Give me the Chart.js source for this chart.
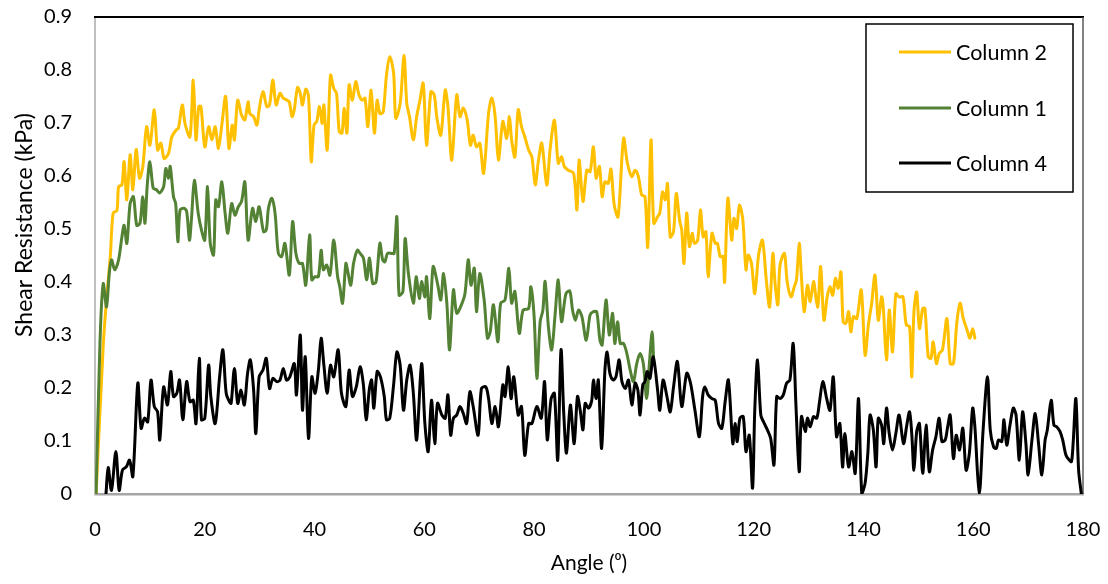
<!DOCTYPE html>
<html>
<head>
<meta charset="utf-8">
<script src="https://cdn.jsdelivr.net/npm/chart.js"></script>
<style>
  html, body { margin: 0; padding: 0; background: #fff; }
  #wrap { width: 1108px; height: 584px; }
</style>
</head>
<body>
<div id="wrap"><canvas id="c" width="1108" height="584"></canvas></div>
<script>
// ---- DATA (angle in degrees, shear resistance in kPa) ----
const seriesNames = ["Column 2", "Column 1", "Column 4"];
const xTicks = [0, 20, 40, 60, 80, 100, 120, 140, 160, 180];
const yTicks = [0, 0.1, 0.2, 0.3, 0.4, 0.5, 0.6, 0.7, 0.8, 0.9];
const xTitle = "Angle (\u2070)";
const yTitle = "Shear Resistance (kPa)";

const column2 = [[0.2,0],[1.5,0.28],[2.2,0.38],[2.8,0.45],[3.3,0.53],[4.0,0.535],[4.3,0.58],[4.9,0.583],[5.3,0.627],[5.8,0.555],[6.4,0.64],[6.9,0.574],[7.5,0.65],[8.1,0.596],[8.7,0.617],[9.4,0.693],[10.0,0.658],[10.8,0.725],[11.4,0.649],[12.0,0.662],[12.6,0.633],[13.4,0.643],[14.0,0.674],[14.8,0.687],[15.2,0.69],[15.9,0.734],[16.4,0.699],[17.3,0.674],[17.9,0.781],[18.4,0.668],[18.9,0.731],[19.3,0.731],[20.0,0.655],[20.7,0.693],[21.3,0.668],[21.9,0.693],[22.5,0.652],[23.1,0.696],[23.8,0.75],[24.4,0.652],[25.0,0.696],[25.4,0.668],[26.0,0.743],[26.7,0.715],[27.3,0.706],[27.9,0.74],
[28.2,0.718],[28.9,0.712],[29.5,0.696],[29.9,0.725],[30.6,0.759],[31.3,0.731],[31.8,0.734],[32.4,0.781],[33.0,0.734],[33.7,0.756],[34.3,0.747],[35.0,0.743],[35.4,0.74],[35.9,0.712],[36.3,0.725],[36.9,0.767],[37.4,0.756],[37.8,0.734],[38.4,0.764],[38.9,0.75],[39.4,0.627],[39.9,0.696],[40.4,0.703],[40.9,0.731],[41.4,0.699],[41.7,0.734],[42.3,0.649],[42.9,0.79],[43.5,0.765],[44.0,0.756],[44.5,0.684],[45.0,0.681],[45.4,0.728],[45.9,0.681],[46.3,0.772],[46.9,0.743],[47.5,0.778],[48.1,0.753],[48.7,0.743],[49.2,0.747],[49.7,0.693],[50.3,0.762],[50.9,0.681],[51.4,0.743],[51.9,0.718],[52.5,0.721],[53.1,0.79],[53.7,0.825],[54.4,0.794],[54.8,0.709],[55.6,0.737],[56.3,0.828],[56.8,0.737],[57.3,0.712],
[58.0,0.668],[58.6,0.712],[59.2,0.743],[59.8,0.775],[60.4,0.658],[61.2,0.759],[61.8,0.753],[62.3,0.709],[63.0,0.677],[63.8,0.762],[64.3,0.731],[65.0,0.630],[65.9,0.753],[66.5,0.712],[67.1,0.728],[67.8,0.706],[68.4,0.658],[68.9,0.677],[69.5,0.655],[70.1,0.662],[70.8,0.605],[71.7,0.718],[72.3,0.747],[72.9,0.712],[73.5,0.630],[74.3,0.703],[75.0,0.671],[75.5,0.712],[75.9,0.668],[76.5,0.636],[77.1,0.725],[77.7,0.693],[78.3,0.674],[79.0,0.649],[79.6,0.636],[80.2,0.583],[80.8,0.630],[81.4,0.662],[82.3,0.583],[82.9,0.649],[83.7,0.705],[84.4,0.624],[85.0,0.636],[85.5,0.618],[86.2,0.611],
[87.2,0.605],[87.8,0.536],[88.2,0.630],[88.9,0.552],[89.6,0.611],[90.2,0.608],[90.8,0.655],[91.3,0.596],[91.9,0.618],[92.4,0.561],[92.9,0.589],[93.5,0.586],[94.0,0.613],[94.6,0.545],[95.3,0.523],[96.3,0.671],[97.0,0.624],[97.8,0.599],[98.4,0.611],[99.0,0.599],[99.6,0.564],[100.2,0.561],[100.7,0.466],[101.3,0.668],[101.8,0.511],[102.5,0.523],[102.9,0.530],[103.4,0.570],[103.9,0.555],[104.3,0.586],[104.8,0.485],[105.4,0.495],[105.9,0.567],[106.5,0.517],[106.9,0.498],[107.3,0.435],[107.8,0.530],[108.3,0.467],[108.8,0.492],[109.2,0.473],[109.8,0.479],[110.3,0.536],[110.8,0.485],[111.3,0.495],[111.7,0.410],[112.4,0.492],[113.0,0.473],[113.4,0.473],[113.9,0.448],[114.4,0.448],[114.7,0.400],[115.3,0.558],
[116.0,0.479],[116.4,0.520],[116.9,0.501],[117.4,0.545],[118.0,0.520],[118.6,0.423],[119.0,0.451],[119.6,0.435],[120.2,0.378],[120.9,0.451],[121.6,0.479],[122.3,0.404],[122.9,0.353],[123.5,0.454],[123.9,0.397],[124.4,0.357],[124.8,0.432],[125.6,0.454],[126.1,0.401],[126.8,0.372],[127.4,0.391],[127.8,0.404],[128.3,0.473],[128.7,0.410],[129.2,0.344],[129.8,0.394],[130.3,0.363],[130.9,0.401],[131.4,0.366],[131.7,0.353],[132.2,0.429],[132.8,0.328],[133.4,0.372],[133.9,0.391],[134.4,0.375],[134.9,0.407],[135.4,0.388],[135.9,0.419],[136.3,0.325],[136.8,0.322],[137.3,0.344],[137.7,0.306],[138.2,0.335],[138.8,0.331],[139.6,0.385],[140.3,0.262],[140.9,0.319],[141.5,0.360],[142.1,0.413],[142.7,0.328],[143.3,0.372],[143.6,0.353],[144.2,0.253],[144.7,0.347],
[145.3,0.268],[145.9,0.378],[146.5,0.372],[147.2,0.372],[147.8,0.319],[148.4,0.316],[148.8,0.221],[149.2,0.344],[149.7,0.381],[150.2,0.312],[150.8,0.350],[151.2,0.350],[151.8,0.259],[152.3,0.256],[152.7,0.287],[153.3,0.246],[153.8,0.265],[154.4,0.272],[155.2,0.331],[155.8,0.246],[156.4,0.246],[157.0,0.322],[157.6,0.360],[158.2,0.331],[158.9,0.309],[159.4,0.294],[159.9,0.312],[160.3,0.294]];

const column1 = [[0.2,0],[0.9,0.284],[1.5,0.397],[2.1,0.353],[2.6,0.416],[3.0,0.442],[3.6,0.423],[4.3,0.442],[4.9,0.485],[5.3,0.507],[5.8,0.473],[6.4,0.548],[7.0,0.561],[7.6,0.507],[8.2,0.511],[8.7,0.561],[9.1,0.511],[9.5,0.580],[10.0,0.627],[10.6,0.577],[11.2,0.574],[11.8,0.568],[12.5,0.580],[12.9,0.614],[13.4,0.596],[13.7,0.618],[14.3,0.561],[14.7,0.548],[15.1,0.476],[15.5,0.536],[16.2,0.539],[16.7,0.533],[17.2,0.479],[17.6,0.523],[18.1,0.592],[18.8,0.530],[19.4,0.498],[20.0,0.479],[20.5,0.580],[21.0,0.473],[21.6,0.451],[22.0,0.555],[22.5,0.542],[23.1,0.589],[23.7,0.530],[24.2,0.492],[24.9,0.548],[25.5,0.526],[26.1,0.542],[26.7,0.552],[27.3,0.589],[27.9,0.479],
[28.7,0.539],[29.3,0.514],[29.9,0.542],[30.7,0.495],[31.2,0.498],[31.6,0.539],[32.2,0.558],[32.8,0.530],[33.4,0.454],[34.0,0.448],[34.6,0.473],[35.4,0.413],[36.0,0.514],[36.6,0.454],[37.2,0.435],[37.8,0.435],[38.4,0.394],[39.1,0.489],[39.5,0.404],[40.1,0.410],[40.7,0.410],[41.2,0.460],[41.6,0.423],[42.2,0.432],[42.8,0.413],[43.5,0.479],[44.2,0.410],[44.6,0.391],[45.1,0.360],[45.7,0.435],[46.0,0.423],[46.6,0.394],[47.1,0.435],[47.8,0.460],[48.3,0.454],[48.9,0.445],[49.5,0.404],[50.0,0.445],[50.6,0.397],[51.2,0.400],[51.9,0.473],[52.4,0.442],[52.8,0.438],[53.3,0.454],[54.1,0.454],[54.5,0.454],[55.0,0.523],[55.4,0.375],[56.1,0.382],[56.5,0.482],[57.1,0.416],
[58.0,0.360],[58.5,0.410],[59.1,0.369],[59.5,0.401],[60.1,0.372],[60.4,0.410],[61.0,0.331],[61.6,0.429],[62.4,0.397],[63.0,0.366],[63.5,0.416],[64.1,0.360],[64.6,0.272],[65.3,0.385],[65.9,0.341],[66.6,0.353],[67.4,0.378],[68.0,0.442],[68.5,0.394],[69.1,0.426],[69.5,0.344],[70.1,0.416],[70.9,0.366],[71.5,0.294],[72.0,0.306],[72.6,0.357],[73.4,0.287],[73.9,0.360],[74.7,0.366],[75.4,0.426],[75.9,0.360],[76.5,0.382],[77.3,0.303],[78.0,0.347],[79.0,0.350],[79.4,0.391],[80.0,0.335],[80.5,0.218],[81.1,0.325],[81.6,0.347],[82.0,0.401],[82.6,0.316],[83.2,0.272],[83.8,0.335],[84.4,0.404],[85.0,0.325],[85.8,0.378],[86.5,0.383],
[87.0,0.347],[87.5,0.328],[88.1,0.347],[88.7,0.335],[89.5,0.290],[90.2,0.338],[90.8,0.344],[91.4,0.344],[92.0,0.290],[92.4,0.281],[93.1,0.366],[93.7,0.300],[94.3,0.341],[94.7,0.284],[95.2,0.325],[95.7,0.284],[96.3,0.284],[96.9,0.265],[97.5,0.234],[98.1,0.212],[98.7,0.246],[99.3,0.265],[99.9,0.246],[100.5,0.180],[101.0,0.246],[101.5,0.306],[101.8,0.246]];

const column4 = [[2.0,0],[2.4,0.050],[3.0,0.007],[3.8,0.080],[4.4,0.007],[5.0,0.045],[5.7,0.051],[6.3,0.064],[6.9,0.033],[7.8,0.209],[8.4,0.124],[9.0,0.143],[9.6,0.136],[10.2,0.215],[10.8,0.165],[11.4,0.155],[11.8,0.102],[12.5,0.202],[13.2,0.168],[13.8,0.231],[14.3,0.184],[14.9,0.190],[15.4,0.215],[16.0,0.140],[16.7,0.212],[17.3,0.174],[17.9,0.177],[18.4,0.133],[19.0,0.256],[19.4,0.140],[20.0,0.143],[20.7,0.243],[21.1,0.184],[21.9,0.133],[22.7,0.221],[23.3,0.272],[23.9,0.190],[24.5,0.174],[24.8,0.171],[25.4,0.237],[26.0,0.171],[26.6,0.196],[27.2,0.168],[27.8,0.228],
[28.3,0.253],[28.9,0.196],[29.3,0.114],[29.9,0.221],[30.6,0.234],[31.2,0.256],[31.8,0.199],[32.4,0.218],[33.1,0.212],[33.7,0.215],[34.3,0.237],[34.9,0.215],[35.5,0.221],[36.3,0.246],[36.7,0.187],[37.4,0.300],[37.8,0.158],[38.3,0.259],[38.9,0.105],[39.5,0.221],[40.1,0.190],[40.7,0.234],[41.2,0.294],[41.7,0.243],[42.3,0.190],[42.9,0.243],[43.5,0.221],[44.3,0.272],[44.9,0.190],[45.7,0.165],[46.3,0.234],[46.9,0.184],[47.6,0.202],[48.3,0.240],[48.9,0.206],[49.4,0.140],[50.0,0.199],[50.4,0.215],[50.8,0.162],[51.4,0.231],[52.0,0.221],[52.7,0.184],[53.1,0.140],[53.7,0.143],[54.4,0.206],[55.0,0.268],[55.6,0.243],[56.2,0.158],[56.8,0.215],
[57.4,0.243],[58.0,0.190],[58.6,0.102],[59.5,0.246],[60.1,0.133],[60.7,0.080],[61.3,0.177],[61.9,0.095],[62.4,0.171],[63.2,0.149],[63.8,0.143],[64.3,0.187],[64.8,0.111],[65.3,0.143],[65.9,0.149],[66.5,0.165],[67.1,0.152],[67.7,0.133],[68.3,0.193],[68.9,0.165],[69.8,0.111],[70.4,0.199],[71.2,0.202],[71.7,0.180],[72.3,0.133],[72.9,0.165],[73.5,0.127],[74.3,0.206],[74.7,0.184],[75.3,0.240],[75.8,0.180],[76.3,0.221],[77.1,0.149],[77.7,0.165],[78.3,0.073],[79.0,0.133],[79.6,0.133],[80.5,0.165],[81.3,0.143],[81.9,0.212],[82.4,0.102],[83.1,0.180],[83.7,0.190],[84.3,0.064],[84.9,0.272],[85.4,0.152],[85.9,0.077],
[86.6,0.168],[87.3,0.095],[87.9,0.184],[88.4,0.158],[88.9,0.121],[89.3,0.171],[89.9,0.162],[90.5,0.177],[90.8,0.215],[91.3,0.180],[91.7,0.215],[92.3,0.086],[92.9,0.234],[93.3,0.268],[93.8,0.228],[94.4,0.215],[94.9,0.221],[95.5,0.253],[96.0,0.212],[96.6,0.199],[97.2,0.215],[97.8,0.168],[98.4,0.209],[98.9,0.196],[99.3,0.149],[99.8,0.206],[100.2,0.212],[100.6,0.231],[101.1,0.218],[101.7,0.259],[102.5,0.196],[102.9,0.158],[103.5,0.215],[104.2,0.184],[104.8,0.155],[105.4,0.202],[106.1,0.250],[106.9,0.165],[107.8,0.228],[108.5,0.209],[109.3,0.158],[110.1,0.108],[110.7,0.184],[111.1,0.202],[111.7,0.187],[112.4,0.180],[113.0,0.177],[113.6,0.133],[114.2,0.124],[114.8,0.174],[115.4,0.215],
[116.2,0.095],[116.6,0.133],[117.0,0.099],[117.5,0.143],[118.1,0.146],[118.6,0.080],[119.2,0.111],[119.8,0.011],[120.2,0.158],[120.7,0.253],[121.3,0.149],[121.8,0.136],[122.5,0.121],[123.1,0.105],[123.7,0.055],[124.2,0.184],[124.8,0.180],[125.4,0.187],[126.0,0.209],[126.6,0.215],[127.2,0.284],[127.7,0.168],[128.3,0.042],[128.7,0.146],[129.4,0.118],[129.8,0.143],[130.3,0.127],[130.9,0.146],[131.5,0.143],[132.0,0.174],[132.6,0.212],[133.3,0.180],[133.9,0.158],[134.5,0.221],[135.1,0.108],[135.7,0.133],[136.2,0.051],[136.6,0.114],[137.3,0.051],[137.9,0.080],[138.5,0.039],[139.1,0.180],[139.7,0],[140.3,0.020],[140.8,0.077],[141.2,0.149],[141.8,0.121],[142.3,0.051],[142.7,0.143],[143.3,0.130],[143.7,0.095],[144.2,0.162],[144.7,0.114],
[145.3,0.083],[145.9,0.114],[146.5,0.149],[147.3,0.095],[147.9,0.130],[148.4,0.155],[148.8,0.114],[149.2,0.045],[149.7,0.118],[150.2,0.133],[150.8,0.039],[151.4,0.130],[152.0,0.042],[152.6,0.083],[153.2,0.108],[153.8,0.143],[154.3,0.099],[154.9,0.102],[155.3,0.124],[155.8,0.149],[156.4,0.067],[156.9,0.111],[157.5,0.083],[158.1,0.124],[158.7,0.045],[159.3,0.077],[159.9,0.162],[160.3,0.127],[161.1,0],[161.8,0.121],[162.6,0.221],[163.1,0.121],[163.7,0.089],[164.2,0.086],[164.6,0.102],[165.2,0.099],[165.6,0.140],[166.1,0.092],[166.7,0.130],[167.3,0.162],[167.8,0.149],[168.4,0.064],[169.0,0.155],[169.6,0.095],[170.0,0.036],[170.7,0.102],[171.3,0.152],[171.9,0.095],[172.5,0.036],[173.1,0.102],[173.5,0.121],[174.2,0.177],[174.7,0.130],[175.2,0.127],[175.8,0.118],[176.3,0.102],[176.9,0.073],[177.5,0.064],[177.9,0.061],[178.2,0.095],[178.7,0.180],[179.2,0.045],[179.7,0]];

// ---- STYLE ----
const FONT = 'Lato, Carlito, "Open Sans", "DejaVu Sans", sans-serif';
const colors = ["#FFC000", "#548235", "#000000"];

const toPoints = arr => arr.map(p => ({ x: p[0], y: p[1] }));

const frameAndLegend = {
  id: 'frameAndLegend',
  beforeDatasetsDraw(chart) {
    const { ctx, chartArea: a } = chart;
    ctx.save();
    ctx.strokeStyle = '#000';
    ctx.lineWidth = 2;
    ctx.beginPath();
    ctx.moveTo(a.left - 1, a.top);
    ctx.lineTo(a.right + 1, a.top);
    ctx.stroke();
    ctx.strokeStyle = '#595959';
    ctx.lineWidth = 1.5;
    ctx.beginPath();
    ctx.moveTo(a.right, a.top);
    ctx.lineTo(a.right, a.bottom);
    ctx.stroke();
    ctx.restore();
  },
  afterDraw(chart) {
    const { ctx } = chart;
    ctx.save();
    ctx.fillStyle = '#000';
    ctx.font = '23px ' + FONT;
    ctx.textAlign = 'center';
    ctx.textBaseline = 'middle';
    ctx.translate(25, 225);
    ctx.rotate(-Math.PI / 2);
    ctx.fillText(yTitle, 0, 0);
    ctx.restore();

    ctx.save();
    ctx.strokeStyle = '#000';
    ctx.lineWidth = 1.5;
    ctx.fillStyle = '#fff';
    ctx.fillRect(866, 24, 207, 168);
    ctx.strokeRect(866, 24, 207, 168);
    const rows = [52, 108, 163];
    chart.data.datasets.forEach((ds, i) => {
      const y = rows[i];
      ctx.strokeStyle = ds.borderColor;
      ctx.lineWidth = 3;
      ctx.beginPath();
      ctx.moveTo(899, y);
      ctx.lineTo(951, y);
      ctx.stroke();
      ctx.fillStyle = '#000';
      ctx.font = '21.5px ' + FONT;
      ctx.textAlign = 'left';
      ctx.textBaseline = 'middle';
      ctx.fillText(ds.label, 956, y + 1);
    });
    ctx.restore();
  }
};

new Chart(document.getElementById('c'), {
  type: 'line',
  data: {
    datasets: [
      { label: seriesNames[0], data: toPoints(column2), borderColor: colors[0], order: 2 },
      { label: seriesNames[1], data: toPoints(column1), borderColor: colors[1], order: 1 },
      { label: seriesNames[2], data: toPoints(column4), borderColor: colors[2], order: 0 }
    ].map(d => Object.assign(d, {
      borderWidth: 3, pointRadius: 0, fill: false, tension: 0.3,
      borderJoinStyle: 'round', borderCapStyle: 'round'
    }))
  },
  options: {
    responsive: false,
    animation: false,
    devicePixelRatio: 1,
    layout: { padding: { top: 17, right: 25, left: 0, bottom: 0 } },
    plugins: { legend: { display: false }, tooltip: { enabled: false } },
    scales: {
      x: {
        type: 'linear', min: 0, max: 180,
        afterBuildTicks: s => { s.ticks = xTicks.map(v => ({ value: v })); },
        afterFit: s => { s.height = 90; s.paddingLeft = 0; s.paddingRight = 0; },
        grid: { display: false, drawTicks: false },
        border: { display: true, color: '#A6A6A6', width: 2.5 },
        ticks: { color: '#000', font: { family: FONT, size: 20 }, padding: 24, maxRotation: 0 },
        title: { display: true, text: xTitle, color: '#000', font: { family: FONT, size: 21 }, padding: { top: 0, bottom: 8 } }
      },
      y: {
        type: 'linear', min: 0, max: 0.9,
        afterBuildTicks: s => { s.ticks = yTicks.map(v => ({ value: v })); },
        afterFit: s => { s.width = 95; s.paddingTop = 0; s.paddingBottom = 0; },
        grid: { display: false, drawTicks: false },
        border: { display: true, color: '#BFBFBF', width: 2 },
        ticks: { color: '#000', font: { family: FONT, size: 20 }, padding: 23,
          callback: v => String(Number(v.toFixed(1))) }
      }
    }
  },
  plugins: [frameAndLegend]
});
</script>
</body>
</html>
